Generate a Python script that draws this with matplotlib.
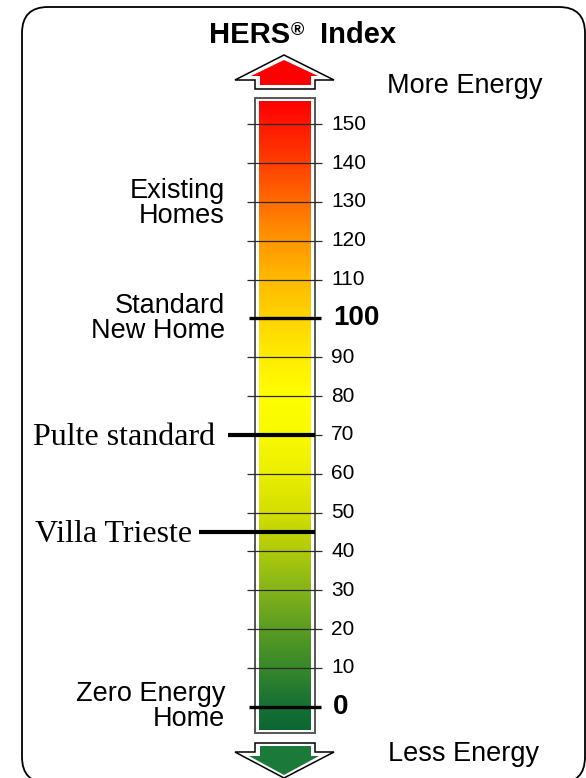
import numpy as np
import matplotlib
matplotlib.use("Agg")
import matplotlib.pyplot as plt
from matplotlib.colors import LinearSegmentedColormap
from matplotlib.patches import Rectangle, Polygon, FancyBboxPatch

plt.rcParams['font.family'] = ['Liberation Sans', 'DejaVu Sans']

# HERS scale data
tick_values = [0, 10, 20, 30, 40, 50, 60, 70, 80, 90, 100, 110, 120, 130, 140, 150]
bold_values = [0, 100]
bar_lo, bar_hi = -6.0, 155.8

# gradient stops along the scale (value, colour)
grad_values = [-6, 0, 10, 20, 30, 40, 50, 60, 70, 80, 90, 100, 110, 120, 130, 140, 150, 156]
grad_colors = ['#0c6630', '#177034', '#38882a', '#5b9d22', '#86b41a', '#b0cb0a', '#d3df00',
               '#ebef00', '#f9f900', '#ffff00', '#ffec00', '#ffd400', '#ffba00', '#ff9700',
               '#ff6c00', '#ff3f00', '#ff1800', '#ff0000']

# category labels on the left
category_labels = ['Existing\nHomes', 'Standard\nNew Home', 'Zero Energy\nHome']
category_values = [129.5, 100, 0]

# homes being compared
home_names = ['Pulte standard', 'Villa Trieste']
home_scores = [70, 45]
home_line_start = [228, 199]
home_text_end = [215, 192]

# pixel -> value mapping of the scale
px_zero, px_per_unit = 706.7, 3.883
v_top = px_zero / px_per_unit
v_bot = (px_zero - 778) / px_per_unit

fig = plt.figure(figsize=(5.86, 7.78), dpi=100)

deco = fig.add_axes([0, 0, 1, 1])
deco.set_xlim(0, 586)
deco.set_ylim(778, 0)
deco.axis('off')

# outer rounded frame
deco.add_patch(FancyBboxPatch((22, 7), 563, 776, boxstyle='round,pad=0,rounding_size=26',
                              fc='white', ec='black', lw=1.3, clip_on=False))

# up arrow
deco.add_patch(Polygon([(284, 55), (235, 80), (255, 80), (255, 89), (315, 89), (315, 80), (334, 80)],
                       closed=True, fc='white', ec='black', lw=1.1))
deco.add_patch(Polygon([(284, 60), (251, 76), (260, 76), (260, 85), (311, 85), (311, 76), (318, 76)],
                       closed=True, fc='#ff0000', ec='none'))
# down arrow
deco.add_patch(Polygon([(255, 743), (315, 743), (315, 752), (334, 752), (284, 778), (235, 752), (255, 752)],
                       closed=True, fc='white', ec='black', lw=1.1))
deco.add_patch(Polygon([(260, 746), (311, 746), (311, 756), (319, 756), (284, 775), (249, 756), (260, 756)],
                       closed=True, fc='#1b7a3a', ec='none'))

deco.text(290, 43, 'HERS', ha='right', va='baseline', fontsize=21, fontweight='bold')
deco.text(291, 35, '\u00ae', ha='left', va='baseline', fontsize=13, fontweight='bold')
deco.text(320, 43, 'Index', ha='left', va='baseline', fontsize=21, fontweight='bold')
deco.text(387, 93, 'More Energy', ha='left', va='baseline', fontsize=19.5)
deco.text(388, 761, 'Less Energy', ha='left', va='baseline', fontsize=19.5)

ax = fig.add_axes([0, 0, 1, 1])
ax.patch.set_visible(False)

# scale frame and gradient bar
ax.add_patch(Rectangle((255, -6.8), 60, 156.7 + 6.8, fc='white', ec='#555555', lw=1.4, zorder=1))
cmap = LinearSegmentedColormap.from_list(
    'hers', [((v - grad_values[0]) / (grad_values[-1] - grad_values[0]), c)
             for v, c in zip(grad_values, grad_colors)])
grad = np.linspace(bar_lo, bar_hi, 500).reshape(-1, 1)
ax.imshow(grad, cmap=cmap, vmin=grad_values[0], vmax=grad_values[-1], origin='lower',
          extent=[259, 311, bar_lo, bar_hi], aspect='auto', interpolation='bilinear', zorder=1.5)

for v in tick_values:
    if v in bold_values:
        ax.plot([249, 321], [v, v], color='black', lw=2.4, solid_capstyle='butt', zorder=3)
        ax.text(333, v, str(v), ha='left', va='center', fontsize=20, fontweight='bold')
    else:
        ax.plot([247, 322], [v, v], color='#2a2a2a', lw=0.9, solid_capstyle='butt', zorder=3)
        ax.text(331, v, str(v), ha='left', va='center', fontsize=15)

for lab, v in zip(category_labels, category_values):
    ax.text(225, v, lab, ha='right', va='center', fontsize=19.5, linespacing=0.95)

for name, score, x0, x1 in zip(home_names, home_scores, home_line_start, home_text_end):
    ax.plot([x0, 315], [score, score], color='black', lw=3, solid_capstyle='butt', zorder=4)
    ax.text(x1, score - 0.6, name, ha='right', va='center', fontsize=23,
            family=['Liberation Serif', 'DejaVu Serif'])

ax.set_xlim(0, 586)
ax.set_ylim(v_bot, v_top)
ax.axis('off')

fig.savefig('out.png', dpi=100)
